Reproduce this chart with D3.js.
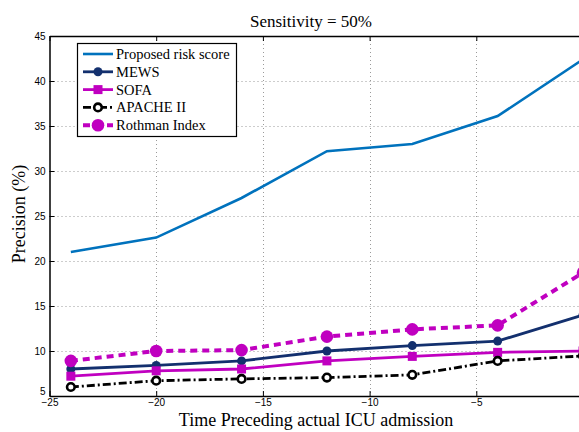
<!DOCTYPE html>
<html>
<head>
<meta charset="utf-8">
<script src="https://cdn.jsdelivr.net/npm/d3@7"></script>
<style>
  body { margin: 0; background: #fff; overflow: hidden; }
  svg { display: block; }
</style>
</head>
<body>
<div id="visualization"></div>
<script>
// Data
const hours = [-24, -20, -16, -12, -8, -4, 0];
const proposed = [21.0, 22.6, 27.0, 32.2, 33.0, 36.1, 42.4];
const mews = [8.0, 8.4, 8.9, 10.0, 10.6, 11.1, 14.0];
const sofa = [7.2, 7.8, 8.0, 8.9, 9.4, 9.85, 10.0];
const apache = [6.0, 6.7, 6.9, 7.05, 7.35, 8.9, 9.45];
const rothman = [8.9, 10.0, 10.1, 11.6, 12.4, 12.85, 18.7];
const xTicks = [-25, -20, -15, -10, -5];
const yTicks = [5, 10, 15, 20, 25, 30, 35, 40, 45];

const series = [
  {name: 'Proposed risk score', values: proposed, color: '#0072bd', width: 2.6, dash: null, marker: null},
  {name: 'MEWS', values: mews, color: '#13306e', width: 2.8, dash: null, marker: 'dot'},
  {name: 'SOFA', values: sofa, color: '#c000c0', width: 2.8, dash: null, marker: 'square'},
  {name: 'APACHE II', values: apache, color: '#000000', width: 2.8, dash: '8,3,2,3', marker: 'open'},
  {name: 'Rothman Index', values: rothman, color: '#c000c0', width: 4, dash: '7,5', marker: 'big'}
];

// Set the dimensions
const W = 579, H = 432;
const pLeft = 49.5, pRight = 583, pTop = 36, pBottom = 396;

const svg = d3.select('#visualization')
  .append('svg')
  .attr('width', W)
  .attr('height', H);

const x = d3.scaleLinear().domain([-25, 0]).range([pLeft, pRight]);
const y = d3.scaleLinear().domain([5, 45]).range([pBottom, pTop]);

// Grid lines
const grid = svg.append('g').attr('stroke', '#9a9a9a').attr('stroke-width', 1).attr('stroke-dasharray', '1,3');
grid.selectAll('.gx').data(xTicks.slice(1)).join('line')
  .attr('x1', d => Math.round(x(d)) + 0.5).attr('x2', d => Math.round(x(d)) + 0.5)
  .attr('y1', pTop).attr('y2', pBottom);
grid.selectAll('.gy').data(yTicks.slice(1, -1)).join('line')
  .attr('x1', pLeft).attr('x2', pRight)
  .attr('y1', d => Math.round(y(d)) + 0.5).attr('y2', d => Math.round(y(d)) + 0.5);

// Axes with inward ticks
const axisFont = 'Liberation Sans, Arial, sans-serif';
const fmt = d => d < 0 ? '\u2212' + Math.abs(d) : String(d);

const xAxis = svg.append('g')
  .attr('transform', `translate(0,${pBottom})`)
  .call(d3.axisBottom(x).tickValues(xTicks).tickSizeInner(-5).tickSizeOuter(0).tickPadding(4).tickFormat(fmt));
const xAxisTop = svg.append('g')
  .attr('transform', `translate(0,${pTop})`)
  .call(d3.axisTop(x).tickValues(xTicks).tickSizeInner(-5).tickSizeOuter(0).tickFormat(''));
const yAxis = svg.append('g')
  .attr('transform', `translate(${pLeft},0)`)
  .call(d3.axisLeft(y).tickValues(yTicks).tickSizeInner(-5).tickSizeOuter(0).tickPadding(4).tickFormat(fmt));

[xAxis, xAxisTop, yAxis].forEach(a => {
  a.selectAll('path.domain').attr('stroke', '#000').attr('stroke-width', 1.5);
  a.selectAll('.tick line').attr('stroke', '#000');
  a.selectAll('text').attr('fill', '#000').style('font-family', axisFont).style('font-size', '10px');
});
xAxis.selectAll('text').attr('dy', '0.6em');
yAxis.selectAll('text').attr('dy', '0.3em');
// the lowest y label sits just above the first x label, as in the original
yAxis.selectAll('.tick text').filter(d => d === 5).attr('dy', '-0.15em');

// Lines
const line = d3.line().x((d, i) => x(hours[i])).y(d => y(d));

series.forEach(s => {
  svg.append('path')
    .datum(s.values)
    .attr('fill', 'none')
    .attr('stroke', s.color)
    .attr('stroke-width', s.width)
    .attr('stroke-dasharray', s.dash)
    .attr('d', line);
});

function drawMarker(g, s, cx, cy) {
  if (s.marker === 'dot') {
    g.append('circle').attr('cx', cx).attr('cy', cy).attr('r', 4.5).attr('fill', s.color);
  } else if (s.marker === 'square') {
    g.append('rect').attr('x', cx - 4.5).attr('y', cy - 4.5).attr('width', 9).attr('height', 9).attr('fill', s.color);
  } else if (s.marker === 'open') {
    g.append('circle').attr('cx', cx).attr('cy', cy).attr('r', 3.8).attr('fill', '#fff')
      .attr('stroke', s.color).attr('stroke-width', 2.6);
  } else if (s.marker === 'big') {
    g.append('circle').attr('cx', cx).attr('cy', cy).attr('r', 6.3).attr('fill', s.color);
  }
}

series.forEach(s => {
  const g = svg.append('g');
  s.values.forEach((v, i) => drawMarker(g, s, x(hours[i]), y(v)));
});

// Legend
const serif = 'Liberation Serif, Times New Roman, serif';
const legend = svg.append('g');
legend.append('rect')
  .attr('x', 77.5).attr('y', 43.5).attr('width', 159).attr('height', 93)
  .attr('fill', '#fff').attr('stroke', '#000').attr('stroke-width', 1.2);
series.forEach((s, i) => {
  const ly = 54 + i * 17.8;
  legend.append('line')
    .attr('x1', 83).attr('x2', 113).attr('y1', ly).attr('y2', ly)
    .attr('stroke', s.color).attr('stroke-width', s.width)
    .attr('stroke-dasharray', s.dash);
  drawMarker(legend, s, 98, ly);
  legend.append('text')
    .attr('x', 116).attr('y', ly).attr('dy', '0.35em')
    .style('font-family', serif)
    .style('font-size', '14.5px')
    .text(s.name);
});

// Titles
svg.append('text')
  .attr('x', 311).attr('y', 27).attr('text-anchor', 'middle')
  .style('font-family', serif).style('font-size', '17px')
  .text('Sensitivity = 50%');
svg.append('text')
  .attr('x', 316).attr('y', 426).attr('text-anchor', 'middle')
  .style('font-family', serif).style('font-size', '18px')
  .text('Time Preceding actual ICU admission');
svg.append('text')
  .attr('transform', 'translate(25,214) rotate(-90)')
  .attr('text-anchor', 'middle')
  .style('font-family', serif).style('font-size', '18px')
  .text('Precision (%)');
</script>
</body>
</html>
